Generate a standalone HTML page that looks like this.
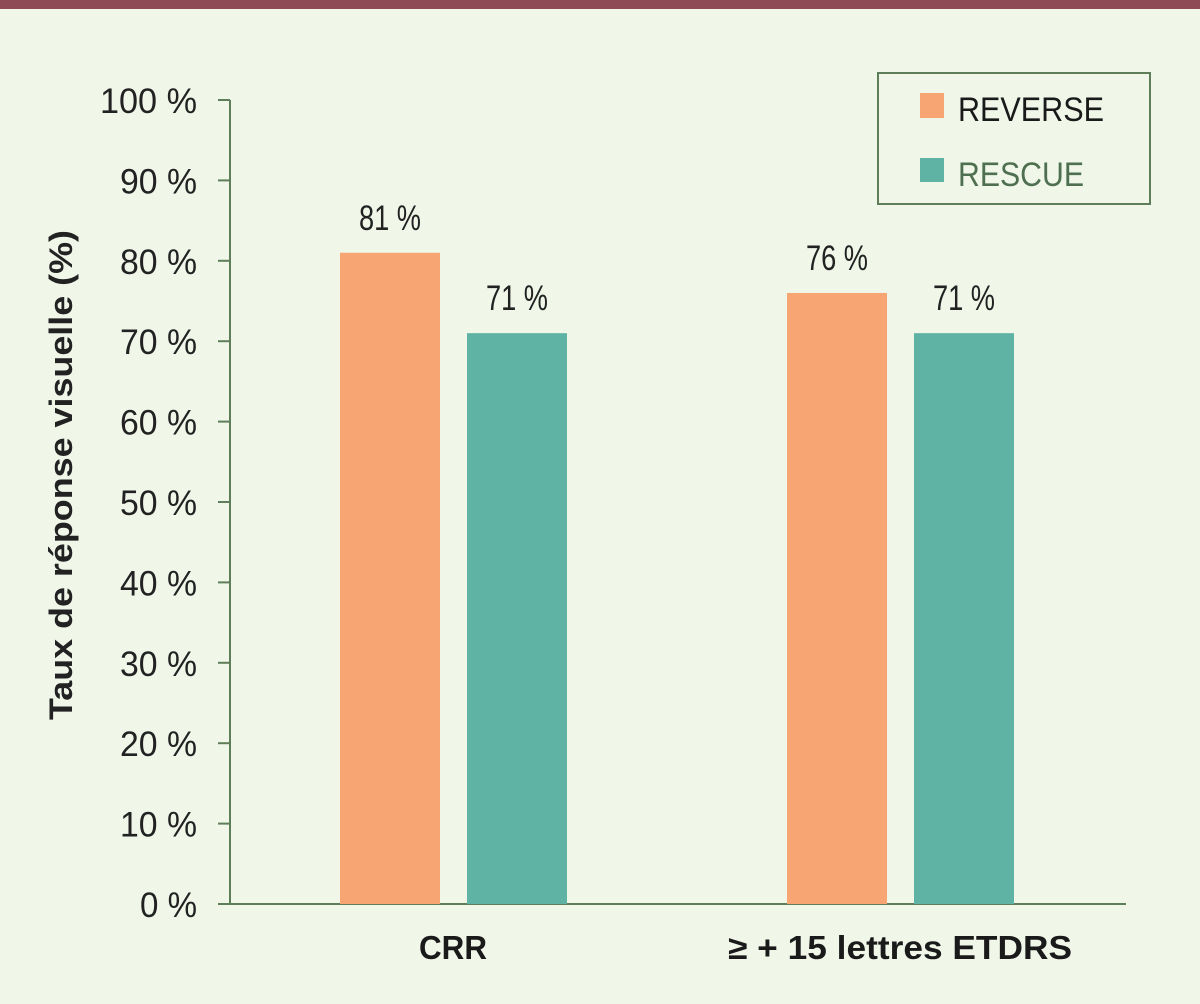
<!DOCTYPE html>
<html><head><meta charset="utf-8"><style>
html,body{margin:0;padding:0;background:#f0f7e9;}
svg{display:block;font-family:"Liberation Sans",sans-serif;}
</style></head><body>
<svg width="1200" height="1004" viewBox="0 0 1200 1004">
<rect x="0" y="0" width="1200" height="1004" fill="#f0f7e9"/>
<rect x="0" y="0" width="1200" height="9" fill="#8e4a55"/>
<g id="axes"></g>
<g id="bars"></g>
<text x="72" y="475" transform="rotate(-90 72 475)" text-anchor="middle" font-size="32" font-weight="bold" textLength="490" lengthAdjust="spacingAndGlyphs" fill="#222">Taux de réponse visuelle (%)</text>
<g>
<rect x="878" y="73" width="272" height="131" fill="none" stroke="#5e7e5a" stroke-width="2"/>
<rect x="920" y="93" width="24" height="25" fill="#f7a673"/>
<text x="958" y="121" font-size="34" textLength="146" lengthAdjust="spacingAndGlyphs" fill="#1a1a1a">REVERSE</text>
<rect x="920" y="158" width="24" height="24" fill="#5fb3a5"/>
<text x="958" y="186" font-size="34" textLength="126" lengthAdjust="spacingAndGlyphs" fill="#4e7050">RESCUE</text>
</g>
</svg>
<script>
const categories = ["CRR", "≥ + 15 lettres ETDRS"];
const reverseValues = [81, 76];
const rescueValues = [71, 71];
const yTicks = [0,10,20,30,40,50,60,70,80,90,100];
const NS = "http://www.w3.org/2000/svg";
const y = v => 904 - v * 8.04;
const groupX = i => 340 + i * 447;
function mk(tag, attrs, parent, text){
  const e = document.createElementNS(NS, tag);
  for (const k in attrs) e.setAttribute(k, attrs[k]);
  if (text !== undefined) e.textContent = text;
  parent.appendChild(e); return e;
}
const axes = document.getElementById('axes');
const bars = document.getElementById('bars');
const ax = mk('line',{x1:230,y1:y(100),x2:230,y2:904,stroke:'#5e7e5a','stroke-width':2},axes);


const bx = mk('line',{x1:218,y1:904,x2:1126,y2:904,stroke:'#5e7e5a','stroke-width':2},axes);


yTicks.forEach(t=>{
  const tk = mk('line',{x1:218,y1:y(t),x2:230,y2:y(t),stroke:'#5e7e5a','stroke-width':2},axes);
  
  
  const lb = mk('text',{x:197,y:y(t)+13,'text-anchor':'end','font-size':35,fill:'#222',textLength: (t===100?97:(t===0?57:77)),lengthAdjust:'spacingAndGlyphs'},axes,t+' %');
  
  
});
categories.forEach((c,i)=>{
  const gx = groupX(i);
  [[reverseValues[i],'#f7a673',0,'reverse'],[rescueValues[i],'#5fb3a5',127,'rescue']].forEach(([v,col,off,nm])=>{
    const r = mk('rect',{x:gx+off,y:y(v),width:100,height:904-y(v),fill:col},bars);
    
    
    const t = mk('text',{x:gx+off+50,y:y(v)-23,'text-anchor':'middle','font-size':35,fill:'#222',textLength:62,lengthAdjust:'spacingAndGlyphs'},bars,v+' %');
    
    
  });
  const cl = mk('text',{x:gx+113,y:959,'text-anchor':'middle','font-size':33,'font-weight':'bold',fill:'#1a1a1a',textLength:(i===0?68:344),lengthAdjust:'spacingAndGlyphs'},bars,c);
  
  
});
</script>
</body></html>
